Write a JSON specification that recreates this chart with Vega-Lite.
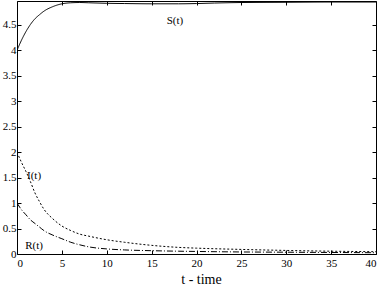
{
  "$schema": "https://vega.github.io/schema/vega-lite/v6.json",
  "width": 359,
  "height": 253,
  "autosize": {"type": "none"},
  "padding": {"left": 17, "top": 1, "right": 3, "bottom": 34},
  "background": "white",
  "config": {
    "view": {"stroke": "black", "strokeWidth": 1},
    "font": "Liberation Serif",
    "text": {"font": "Liberation Serif"},
    "axis": {
      "grid": false,
      "domain": false,
      "tickColor": "black",
      "tickSize": -4,
      "labelFont": "Liberation Serif",
      "labelFontSize": 11,
      "labelColor": "black",
      "titleFont": "Liberation Serif",
      "titleFontWeight": "normal",
      "titleColor": "black"
    }
  },
  "datasets": {
    "curves": [
      {"t": 0, "v": 4.0, "s": "S"}, {"t": 0.5, "v": 4.2, "s": "S"}, {"t": 1, "v": 4.37, "s": "S"}, {"t": 1.5, "v": 4.51, "s": "S"},
      {"t": 2, "v": 4.62, "s": "S"}, {"t": 2.5, "v": 4.7, "s": "S"}, {"t": 3, "v": 4.77, "s": "S"}, {"t": 4, "v": 4.86, "s": "S"},
      {"t": 5, "v": 4.915, "s": "S"}, {"t": 6, "v": 4.935, "s": "S"}, {"t": 7, "v": 4.94, "s": "S"}, {"t": 8, "v": 4.935, "s": "S"},
      {"t": 10, "v": 4.925, "s": "S"}, {"t": 12, "v": 4.92, "s": "S"}, {"t": 15, "v": 4.915, "s": "S"}, {"t": 18, "v": 4.915, "s": "S"},
      {"t": 20, "v": 4.92, "s": "S"}, {"t": 22, "v": 4.93, "s": "S"}, {"t": 25, "v": 4.94, "s": "S"}, {"t": 30, "v": 4.945, "s": "S"},
      {"t": 35, "v": 4.95, "s": "S"}, {"t": 40, "v": 4.95, "s": "S"},
      {"t": 0, "v": 2.0, "s": "I"}, {"t": 0.5, "v": 1.8, "s": "I"}, {"t": 1, "v": 1.62, "s": "I"}, {"t": 1.5, "v": 1.42, "s": "I"},
      {"t": 2, "v": 1.2, "s": "I"}, {"t": 2.5, "v": 1.03, "s": "I"}, {"t": 3, "v": 0.88, "s": "I"}, {"t": 4, "v": 0.69, "s": "I"},
      {"t": 5, "v": 0.55, "s": "I"}, {"t": 6, "v": 0.46, "s": "I"}, {"t": 7, "v": 0.39, "s": "I"}, {"t": 8, "v": 0.35, "s": "I"},
      {"t": 10, "v": 0.28, "s": "I"}, {"t": 12, "v": 0.23, "s": "I"}, {"t": 15, "v": 0.17, "s": "I"}, {"t": 18, "v": 0.13, "s": "I"},
      {"t": 20, "v": 0.115, "s": "I"}, {"t": 25, "v": 0.09, "s": "I"}, {"t": 30, "v": 0.07, "s": "I"}, {"t": 35, "v": 0.055, "s": "I"},
      {"t": 40, "v": 0.045, "s": "I"},
      {"t": 0, "v": 1.0, "s": "R"}, {"t": 0.5, "v": 0.87, "s": "R"}, {"t": 1, "v": 0.77, "s": "R"}, {"t": 1.5, "v": 0.67, "s": "R"},
      {"t": 2, "v": 0.6, "s": "R"}, {"t": 2.5, "v": 0.53, "s": "R"}, {"t": 3, "v": 0.46, "s": "R"}, {"t": 4, "v": 0.37, "s": "R"},
      {"t": 5, "v": 0.3, "s": "R"}, {"t": 6, "v": 0.23, "s": "R"}, {"t": 7, "v": 0.18, "s": "R"}, {"t": 8, "v": 0.14, "s": "R"},
      {"t": 10, "v": 0.1, "s": "R"}, {"t": 12, "v": 0.08, "s": "R"}, {"t": 15, "v": 0.065, "s": "R"}, {"t": 18, "v": 0.055, "s": "R"},
      {"t": 20, "v": 0.05, "s": "R"}, {"t": 25, "v": 0.04, "s": "R"}, {"t": 30, "v": 0.035, "s": "R"}, {"t": 35, "v": 0.03, "s": "R"},
      {"t": 40, "v": 0.025, "s": "R"}
    ],
    "labels": [
      {"t": 17.6, "v": 4.57, "label": "S(t)"},
      {"t": 1.9, "v": 1.54, "label": "I(t)"},
      {"t": 1.9, "v": 0.16, "label": "R(t)"}
    ]
  },
  "layer": [
    {
      "data": {"name": "curves"},
      "mark": {"type": "line", "interpolate": "monotone", "strokeWidth": 1, "stroke": "black", "clip": true},
      "encoding": {
        "x": {
          "field": "t", "type": "quantitative",
          "scale": {"domain": [0, 40], "nice": false, "zero": false},
          "axis": {"orient": "bottom", "values": [0, 5, 10, 15, 20, 25, 30, 35, 40], "labelPadding": 7, "labelFont": "Liberation Serif", "title": "t - time", "titleFont": "Liberation Serif", "titleFontWeight": "normal", "titleFontSize": 14, "titlePadding": 4, "titleX": 184}
        },
        "y": {
          "field": "v", "type": "quantitative",
          "scale": {"domain": [0, 4.97], "nice": false, "zero": false},
          "axis": {"orient": "left", "values": [0, 0.5, 1, 1.5, 2, 2.5, 3, 3.5, 4, 4.5], "format": ".1~f", "labelFont": "Liberation Serif", "labelPadding": 5, "title": null}
        },
        "detail": {"field": "s"},
        "strokeDash": {
          "field": "s", "type": "nominal",
          "scale": {"domain": ["S", "I", "R"], "range": [[1, 0], [2, 2], [6, 2, 1, 2]]},
          "legend": null
        }
      }
    },
    {
      "data": {"name": "labels"},
      "mark": {"type": "text", "font": "Liberation Serif", "fontSize": 11, "fill": "black", "align": "center", "baseline": "middle"},
      "encoding": {
        "x": {"field": "t", "type": "quantitative", "axis": {"orient": "top", "values": [0, 5, 10, 15, 20, 25, 30, 35, 40], "labels": false, "title": null}},
        "y": {"field": "v", "type": "quantitative", "axis": {"orient": "right", "values": [0, 0.5, 1, 1.5, 2, 2.5, 3, 3.5, 4, 4.5], "labels": false, "title": null}},
        "text": {"field": "label"}
      }
    }
  ],
  "resolve": {"axis": {"x": "independent", "y": "independent"}}
}
